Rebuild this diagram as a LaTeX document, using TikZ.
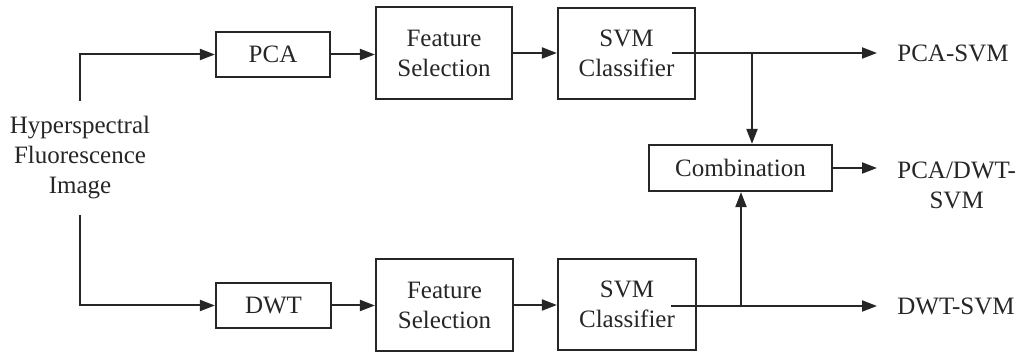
\documentclass[tikz,border=0pt]{standalone}
\usepackage{fontspec}
\setmainfont{Liberation Serif}
\usetikzlibrary{arrows.meta}
\definecolor{ink}{HTML}{262626}
\tikzset{
  blk/.style={draw=ink, line width=1.1pt, text=ink, align=center, inner sep=0pt,
              font=\fontsize{12.5}{15}\selectfont},
  lbl/.style={text=ink, align=center, inner sep=0pt, font=\fontsize{12.5}{15}\selectfont},
  outlbl/.style={lbl, anchor=west, inner xsep=10pt},
  arr/.style={draw=ink, line width=1pt, -{Triangle[length=7.5pt,width=5.5pt]}},
  ln/.style={draw=ink, line width=1pt}
}
\begin{document}
\begin{tikzpicture}[x=0.5pt,y=-0.5pt]
\useasboundingbox (0,0) rectangle (1019,352);

% input
\node[lbl, inner ysep=7.5pt] (in) at (80,158) {Hyperspectral\\Fluorescence\\Image};

% upper branch
\node[blk, minimum width=57pt, minimum height=22.5pt] (pca) at (273,54.5) {PCA};
\node[blk, minimum width=68pt, minimum height=46pt] (fs1) at (444,53) {Feature\\Selection};
\node[blk, minimum width=68.5pt, minimum height=45.5pt] (svm1) at (626.5,53.5) {SVM\\Classifier};

% lower branch
\node[blk, minimum width=57.5pt, minimum height=22.5pt] (dwt) at (273.5,305.5) {DWT};
\node[blk, minimum width=68.5pt, minimum height=46pt] (fs2) at (444.5,305) {Feature\\Selection};
\node[blk, minimum width=69pt, minimum height=45.5pt] (svm2) at (627,304.5) {SVM\\Classifier};

% fusion
\node[blk, minimum width=91.5pt, minimum height=23pt] (comb) at (740.5,168) {Combination};

% outputs
\node[outlbl] (o1) at (877,53) {PCA-SVM};
\node[outlbl] (o2) at (877,185) {PCA/DWT-\\SVM};
\node[outlbl] (o3) at (877,306) {DWT-SVM};

% taps leaving the classifiers
\coordinate (s1o) at (672,53);
\coordinate (s2o) at (671,306);
\coordinate (j1) at (752,53);
\coordinate (j2) at (741,306);

% connectors
\draw[arr] (in.north) |- (pca.west);
\draw[arr] (in.south) |- (dwt.west);
\draw[arr] (pca.east) -- (pca.east -| fs1.west);
\draw[arr] (fs1.east) -- (fs1.east -| svm1.west);
\draw[arr] (dwt.east) -- (dwt.east -| fs2.west);
\draw[arr] (fs2.east) -- (fs2.east -| svm2.west);
\draw[arr] (s1o) -- (o1.west);
\draw[arr] (s2o) -- (o3.west);
\draw[arr] (j1) -- (j1 |- comb.north);
\draw[arr] (j2) -- (j2 |- comb.south);
\draw[arr] (comb.east) -- (comb.east -| o2.west);
\end{tikzpicture}
\end{document}
